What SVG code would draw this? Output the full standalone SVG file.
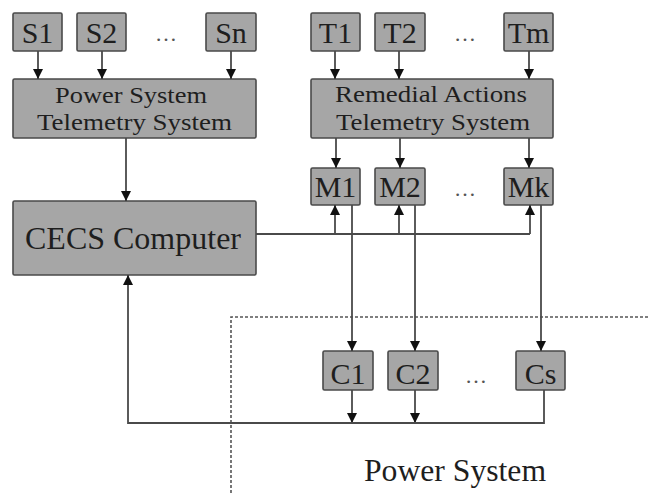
<svg xmlns="http://www.w3.org/2000/svg" width="650" height="493" viewBox="0 0 650 493">
<style>
.box{fill:#a6a6a6;stroke:#4a4a4a;stroke-width:1.6}
.t{font-family:"Liberation Serif","Times New Roman",serif;fill:#1e1e1e;text-anchor:middle}
.s{font-size:30px}
.m{font-size:24px}
.dots{font-family:"Liberation Serif",serif;font-size:22px;fill:#555;text-anchor:middle}
.c{fill:none;stroke:#4a4a4a;stroke-width:1.8}
</style>
<defs>
<marker id="ah" markerUnits="userSpaceOnUse" markerWidth="12" markerHeight="12" viewBox="0 0 12 12" refX="11" refY="6" orient="auto">
<path d="M1,1 L11,6 L1,11 Z" fill="#111"/>
</marker>
</defs>
<rect width="650" height="493" fill="#fff"/>
<path d="M231,493 V317 H650" fill="none" stroke="#555" stroke-width="1.6" stroke-dasharray="3,2"/>
<g id="S1"><rect class="box" x="13" y="13" width="49" height="38" rx="1.5"/><text class="t s" x="37.5" y="43">S1</text></g>
<g id="S2"><rect class="box" x="77" y="13" width="49" height="38" rx="1.5"/><text class="t s" x="101.5" y="43">S2</text></g>
<text class="dots" x="166" y="41">…</text>
<g id="Sn"><rect class="box" x="206" y="13" width="50" height="38" rx="1.5"/><text class="t s" x="231" y="43">Sn</text></g>
<g id="T1"><rect class="box" x="311" y="13" width="49" height="38" rx="1.5"/><text class="t s" x="335.5" y="43">T1</text></g>
<g id="T2"><rect class="box" x="375" y="13" width="50" height="38" rx="1.5"/><text class="t s" x="400" y="43">T2</text></g>
<text class="dots" x="465" y="41">…</text>
<g id="Tm"><rect class="box" x="504" y="13" width="49" height="38" rx="1.5"/><text class="t s" x="528.5" y="43">Tm</text></g>
<g id="PSTS"><rect class="box" x="13" y="79" width="243" height="59" rx="1.5"/>
<text class="t m" x="131" y="103" textLength="152" lengthAdjust="spacingAndGlyphs">Power System</text>
<text class="t m" x="134.5" y="130" textLength="195" lengthAdjust="spacingAndGlyphs">Telemetry System</text></g>
<g id="RATS"><rect class="box" x="311" y="79" width="242" height="59" rx="1.5"/>
<text class="t m" x="431" y="102" textLength="192" lengthAdjust="spacingAndGlyphs">Remedial Actions</text>
<text class="t m" x="433" y="130" textLength="194" lengthAdjust="spacingAndGlyphs">Telemetry System</text></g>
<g id="CECS"><rect class="box" x="13" y="201" width="243" height="74" rx="1.5"/>
<text class="t" x="133" y="249" font-size="32" textLength="216" lengthAdjust="spacingAndGlyphs">CECS Computer</text></g>
<g id="M1"><rect class="box" x="311" y="168" width="49" height="37" rx="1.5"/><text class="t s" x="335.5" y="197" font-size="28">M1</text></g>
<g id="M2"><rect class="box" x="375" y="168" width="50" height="37" rx="1.5"/><text class="t s" x="400" y="197" font-size="28">M2</text></g>
<text class="dots" x="465" y="196">…</text>
<g id="Mk"><rect class="box" x="504" y="168" width="49" height="37" rx="1.5"/><text class="t s" x="528.5" y="197" font-size="28">Mk</text></g>
<g id="C1"><rect class="box" x="323" y="351" width="50" height="39" rx="1.5"/><text class="t s" x="348" y="384">C1</text></g>
<g id="C2"><rect class="box" x="388" y="351" width="50" height="39" rx="1.5"/><text class="t s" x="413" y="384">C2</text></g>
<text class="dots" x="476" y="383">…</text>
<g id="Cs"><rect class="box" x="516" y="351" width="49" height="39" rx="1.5"/><text class="t s" x="540.5" y="384">Cs</text></g>
<g id="Power System label"><text class="t" x="455" y="481" font-size="31" textLength="182" lengthAdjust="spacingAndGlyphs">Power System</text></g>
<g id="connectors">
<path class="c" d="M38,51 V79" marker-end="url(#ah)"/>
<path class="c" d="M102,51 V79" marker-end="url(#ah)"/>
<path class="c" d="M231,51 V79" marker-end="url(#ah)"/>
<path class="c" d="M335,51 V79" marker-end="url(#ah)"/>
<path class="c" d="M399,51 V79" marker-end="url(#ah)"/>
<path class="c" d="M529,51 V79" marker-end="url(#ah)"/>
<path class="c" d="M126,138 V201" marker-end="url(#ah)"/>
<path class="c" d="M336,138 V168" marker-end="url(#ah)"/>
<path class="c" d="M400,138 V168" marker-end="url(#ah)"/>
<path class="c" d="M529,138 V168" marker-end="url(#ah)"/>
<path class="c" d="M256,234 H530"/>
<path class="c" d="M335,234 V205" marker-end="url(#ah)"/>
<path class="c" d="M399,234 V205" marker-end="url(#ah)"/>
<path class="c" d="M530,234 V205" marker-end="url(#ah)"/>
<path class="c" d="M352,205 V351" marker-end="url(#ah)"/>
<path class="c" d="M415,205 V351" marker-end="url(#ah)"/>
<path class="c" d="M541,205 V351" marker-end="url(#ah)"/>
<path class="c" d="M352,390 V423" marker-end="url(#ah)"/>
<path class="c" d="M415,390 V423" marker-end="url(#ah)"/>
<path class="c" d="M544,390 V423 H128 V275" marker-end="url(#ah)"/>
</g>
</svg>
